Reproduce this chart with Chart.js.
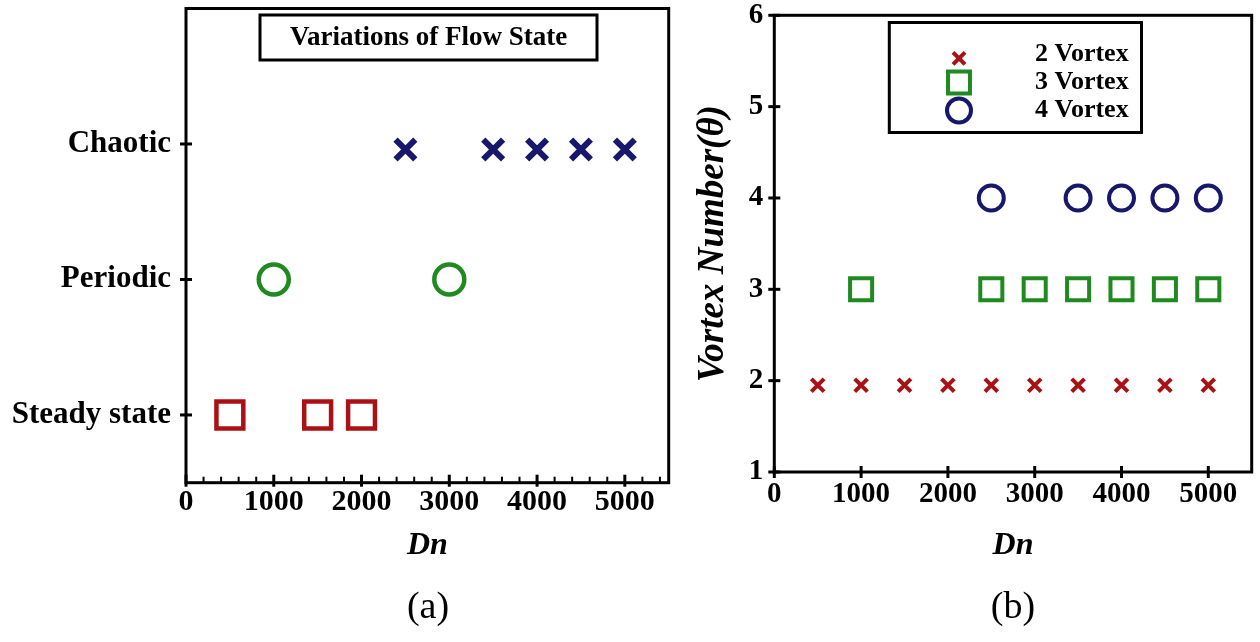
<!DOCTYPE html>
<html><head><meta charset="utf-8">
<script src="https://cdn.jsdelivr.net/npm/chart.js@4.4.1/dist/chart.umd.min.js"></script>
<style>
html,body{margin:0;padding:0;background:#fff;}
#wrap{position:relative;width:1260px;height:642px;overflow:hidden;background:#fff;}
canvas{position:absolute;top:0;}
#cA{left:0;} #cB{left:690px;}
.cap{position:absolute;font-family:'Liberation Serif','Times New Roman',serif;font-size:38px;color:#000;transform:translate(-50%,-50%);white-space:nowrap;line-height:1;}
</style></head><body>
<div id="wrap">
<canvas id="cA" width="690" height="642"></canvas>
<canvas id="cB" width="570" height="642"></canvas>
<div class="cap" style="left:428px;top:605px">(a)</div>
<div class="cap" style="left:1013px;top:605px">(b)</div>
</div>
<script>
// ---------- data ----------
const stateLabels = ['Steady state', 'Periodic', 'Chaotic'];
const steadyDn = [500, 1500, 2000];
const steadyState = [0, 0, 0];
const periodicDn = [1000, 3000];
const periodicState = [1, 1];
const chaoticDn = [2500, 3500, 4000, 4500, 5000];
const chaoticState = [1.96, 1.96, 1.96, 1.96, 1.96];
const dnTicks = [0, 1000, 2000, 3000, 4000, 5000];
const stateTicks = [0, 1, 2];
const vortexTicks = [1, 2, 3, 4, 5, 6];
const vortex2Dn = [500, 1000, 1500, 2000, 2500, 3000, 3500, 4000, 4500, 5000];
const vortex2Num = [1.95, 1.95, 1.95, 1.95, 1.95, 1.95, 1.95, 1.95, 1.95, 1.95];
const vortex3Dn = [1000, 2500, 3000, 3500, 4000, 4500, 5000];
const vortex3Num = [3, 3, 3, 3, 3, 3, 3];
const vortex4Dn = [2500, 3500, 4000, 4500, 5000];
const vortex4Num = [4, 4, 4, 4, 4];
const legendLabels = ['2 Vortex', '3 Vortex', '4 Vortex'];
const titleA = 'Variations of Flow State';

// ---------- styles ----------
const RED = '#ab1014', GREEN = '#1f8a1f', NAVY = '#17186b';
const SERIF = "'Liberation Serif','Times New Roman',serif";
Chart.defaults.font.family = SERIF;
Chart.defaults.color = '#000';

const pts = (xs, ys) => xs.map((x, i) => ({x: x, y: ys[i]}));

function drawMarker(ctx, style, x, y, r, color, w) {
  ctx.save(); ctx.strokeStyle = color; ctx.lineWidth = w; ctx.beginPath();
  const s = r * Math.SQRT1_2;
  if (style === 'rect') { ctx.rect(x - s, y - s, 2 * s, 2 * s); }
  else if (style === 'circle') { ctx.arc(x, y, r, 0, Math.PI * 2); }
  else { ctx.moveTo(x - s, y - s); ctx.lineTo(x + s, y + s); ctx.moveTo(x - s, y + s); ctx.lineTo(x + s, y - s); }
  ctx.stroke(); ctx.restore();
}

const framePlugin = {
  id: 'frame',
  afterDraw(chart, args, o) {
    const {ctx, chartArea: a, scales: {x, y}} = chart;
    ctx.save();
    ctx.strokeStyle = '#000';
    ctx.lineWidth = 3;
    ctx.strokeRect(a.left, a.top, a.right - a.left, a.bottom - a.top);
    const ln = (x1, y1, x2, y2) => { ctx.beginPath(); ctx.moveTo(x1, y1); ctx.lineTo(x2, y2); ctx.stroke(); };
    ctx.lineWidth = 3;
    x.ticks.forEach(t => { const px = x.getPixelForValue(t.value); ln(px, a.bottom - o.xIn, px, a.bottom + o.xOut); });
    y.ticks.forEach(t => { const py = y.getPixelForValue(t.value); ln(a.left - o.yOut, py, a.left + o.yIn, py); });
    if (o.minor) {
      ctx.lineWidth = 2;
      for (let v = x.min + o.minor; v < x.max; v += o.minor) {
        if (v % 1000 === 0) continue;
        const px = x.getPixelForValue(v);
        ln(px, a.bottom - o.minorLen, px, a.bottom);
      }
    }
    if (o.titleBox) {
      const b = o.titleBox;
      ctx.lineWidth = 3;
      ctx.strokeRect(b.x1, b.y1, b.x2 - b.x1, b.y2 - b.y1);
      ctx.fillStyle = '#000';
      ctx.font = 'bold 27px ' + SERIF;
      ctx.textAlign = 'center'; ctx.textBaseline = 'middle';
      ctx.fillText(b.text, (b.x1 + b.x2) / 2, (b.y1 + b.y2) / 2 + 1);
    }
    if (o.legendBox) {
      const b = o.legendBox;
      ctx.lineWidth = 3;
      ctx.strokeRect(b.x1, b.y1, b.x2 - b.x1, b.y2 - b.y1);
      chart.data.datasets.forEach((ds, i) => {
        const ry = b.rows[i];
        drawMarker(ctx, ds.pointStyle, b.mx, ry.m, b.sizes[i], ds.pointBorderColor, b.widths[i]);
        ctx.fillStyle = '#000';
        ctx.font = 'bold 26px ' + SERIF;
        ctx.textAlign = 'left'; ctx.textBaseline = 'middle';
        ctx.fillText(ds.label, b.tx, ry.t);
      });
    }
    ctx.restore();
  }
};

const setTicks = arr => (scale) => { scale.ticks = arr.map(v => ({value: v})); };
const fitTo = (prop, val) => (s) => {
  s[prop] = val;
  s.paddingTop = 0; s.paddingBottom = 0; s.paddingLeft = 0; s.paddingRight = 0;
};

// ---------- chart (a) ----------
new Chart(document.getElementById('cA'), {
  type: 'scatter',
  data: {
    datasets: [
      {label: stateLabels[0], data: pts(steadyDn, steadyState), pointStyle: 'rect', pointRadius: 19, pointBorderWidth: 4.5, pointBorderColor: RED, pointBackgroundColor: 'rgba(0,0,0,0)'},
      {label: stateLabels[1], data: pts(periodicDn, periodicState), pointStyle: 'circle', pointRadius: 15, pointBorderWidth: 4.5, pointBorderColor: GREEN, pointBackgroundColor: 'rgba(0,0,0,0)'},
      {label: stateLabels[2], data: pts(chaoticDn, chaoticState), pointStyle: 'crossRot', pointRadius: 14, pointBorderWidth: 6, pointBorderColor: NAVY, pointBackgroundColor: 'rgba(0,0,0,0)'}
    ]
  },
  options: {
    responsive: false, animation: false, events: [],
    layout: {autoPadding: false, padding: {top: 8.5, right: 21.3, left: 0, bottom: 0}},
    plugins: {
      legend: {display: false}, tooltip: {enabled: false},
      frame: {xIn: 8, xOut: 4, yIn: 6, yOut: 6, minor: 200, minorLen: 6,
        titleBox: {x1: 260, y1: 15, x2: 597, y2: 60, text: titleA}}
    },
    scales: {
      x: {
        type: 'linear', min: 0, max: 5500,
        afterBuildTicks: setTicks(dnTicks),
        afterFit: fitTo('height', 642 - 482.7),
        grid: {display: false, drawTicks: false}, border: {display: false},
        ticks: {font: {size: 30, weight: 'bold'}, padding: 2, maxRotation: 0, autoSkip: false, callback: v => String(v)},
        title: {display: true, text: 'Dn', font: {size: 32, weight: 'bold', style: 'italic'}, padding: {top: 0, bottom: 77}}
      },
      y: {
        type: 'linear', min: -0.5, max: 3,
        afterBuildTicks: setTicks(stateTicks),
        afterFit: fitTo('width', 186),
        grid: {display: false, drawTicks: false}, border: {display: false},
        ticks: {font: {size: 31, weight: 'bold'}, padding: 15, autoSkip: false, callback: v => stateLabels[v]}
      }
    }
  },
  plugins: [framePlugin]
});

// ---------- chart (b) ----------
new Chart(document.getElementById('cB'), {
  type: 'scatter',
  data: {
    datasets: [
      {label: legendLabels[0], data: pts(vortex2Dn, vortex2Num), pointStyle: 'crossRot', pointRadius: 9, pointBorderWidth: 4, pointBorderColor: RED, pointBackgroundColor: 'rgba(0,0,0,0)'},
      {label: legendLabels[1], data: pts(vortex3Dn, vortex3Num), pointStyle: 'rect', pointRadius: 15.6, pointBorderWidth: 4, pointBorderColor: GREEN, pointBackgroundColor: 'rgba(0,0,0,0)'},
      {label: legendLabels[2], data: pts(vortex4Dn, vortex4Num), pointStyle: 'circle', pointRadius: 12.5, pointBorderWidth: 4, pointBorderColor: NAVY, pointBackgroundColor: 'rgba(0,0,0,0)'}
    ]
  },
  options: {
    responsive: false, animation: false, events: [],
    layout: {autoPadding: false, padding: {top: 15.3, right: 8.3, left: 0, bottom: 0}},
    plugins: {
      legend: {display: false}, tooltip: {enabled: false},
      frame: {xIn: 6, xOut: 6, yIn: 6, yOut: 6,
        legendBox: {x1: 199.3, y1: 22.5, x2: 451.5, y2: 132.5, mx: 269, tx: 345,
          rows: [{m: 58.3, t: 54.5}, {m: 82.5, t: 82.5}, {m: 110.5, t: 110.5}],
          sizes: [8.5, 15.5, 12], widths: [4, 4, 4]}}
    },
    scales: {
      x: {
        type: 'linear', min: 0, max: 5500,
        afterBuildTicks: setTicks(dnTicks),
        afterFit: fitTo('height', 642 - 472),
        grid: {display: false, drawTicks: false}, border: {display: false},
        ticks: {font: {size: 29, weight: 'bold'}, padding: 5, maxRotation: 0, autoSkip: false, callback: v => String(v)},
        title: {display: true, text: 'Dn', font: {size: 32, weight: 'bold', style: 'italic'}, padding: {top: 0, bottom: 77}}
      },
      y: {
        type: 'linear', min: 1, max: 6,
        afterBuildTicks: setTicks(vortexTicks),
        afterFit: fitTo('width', 84.3),
        grid: {display: false, drawTicks: false}, border: {display: false},
        ticks: {font: {size: 29, weight: 'bold'}, padding: 11, autoSkip: false},
        title: {display: true, text: 'Vortex Number(θ)', font: {size: 37, weight: 'bold', style: 'italic'}, padding: {top: 1, bottom: 0}}
      }
    }
  },
  plugins: [framePlugin]
});
</script>
</body></html>
